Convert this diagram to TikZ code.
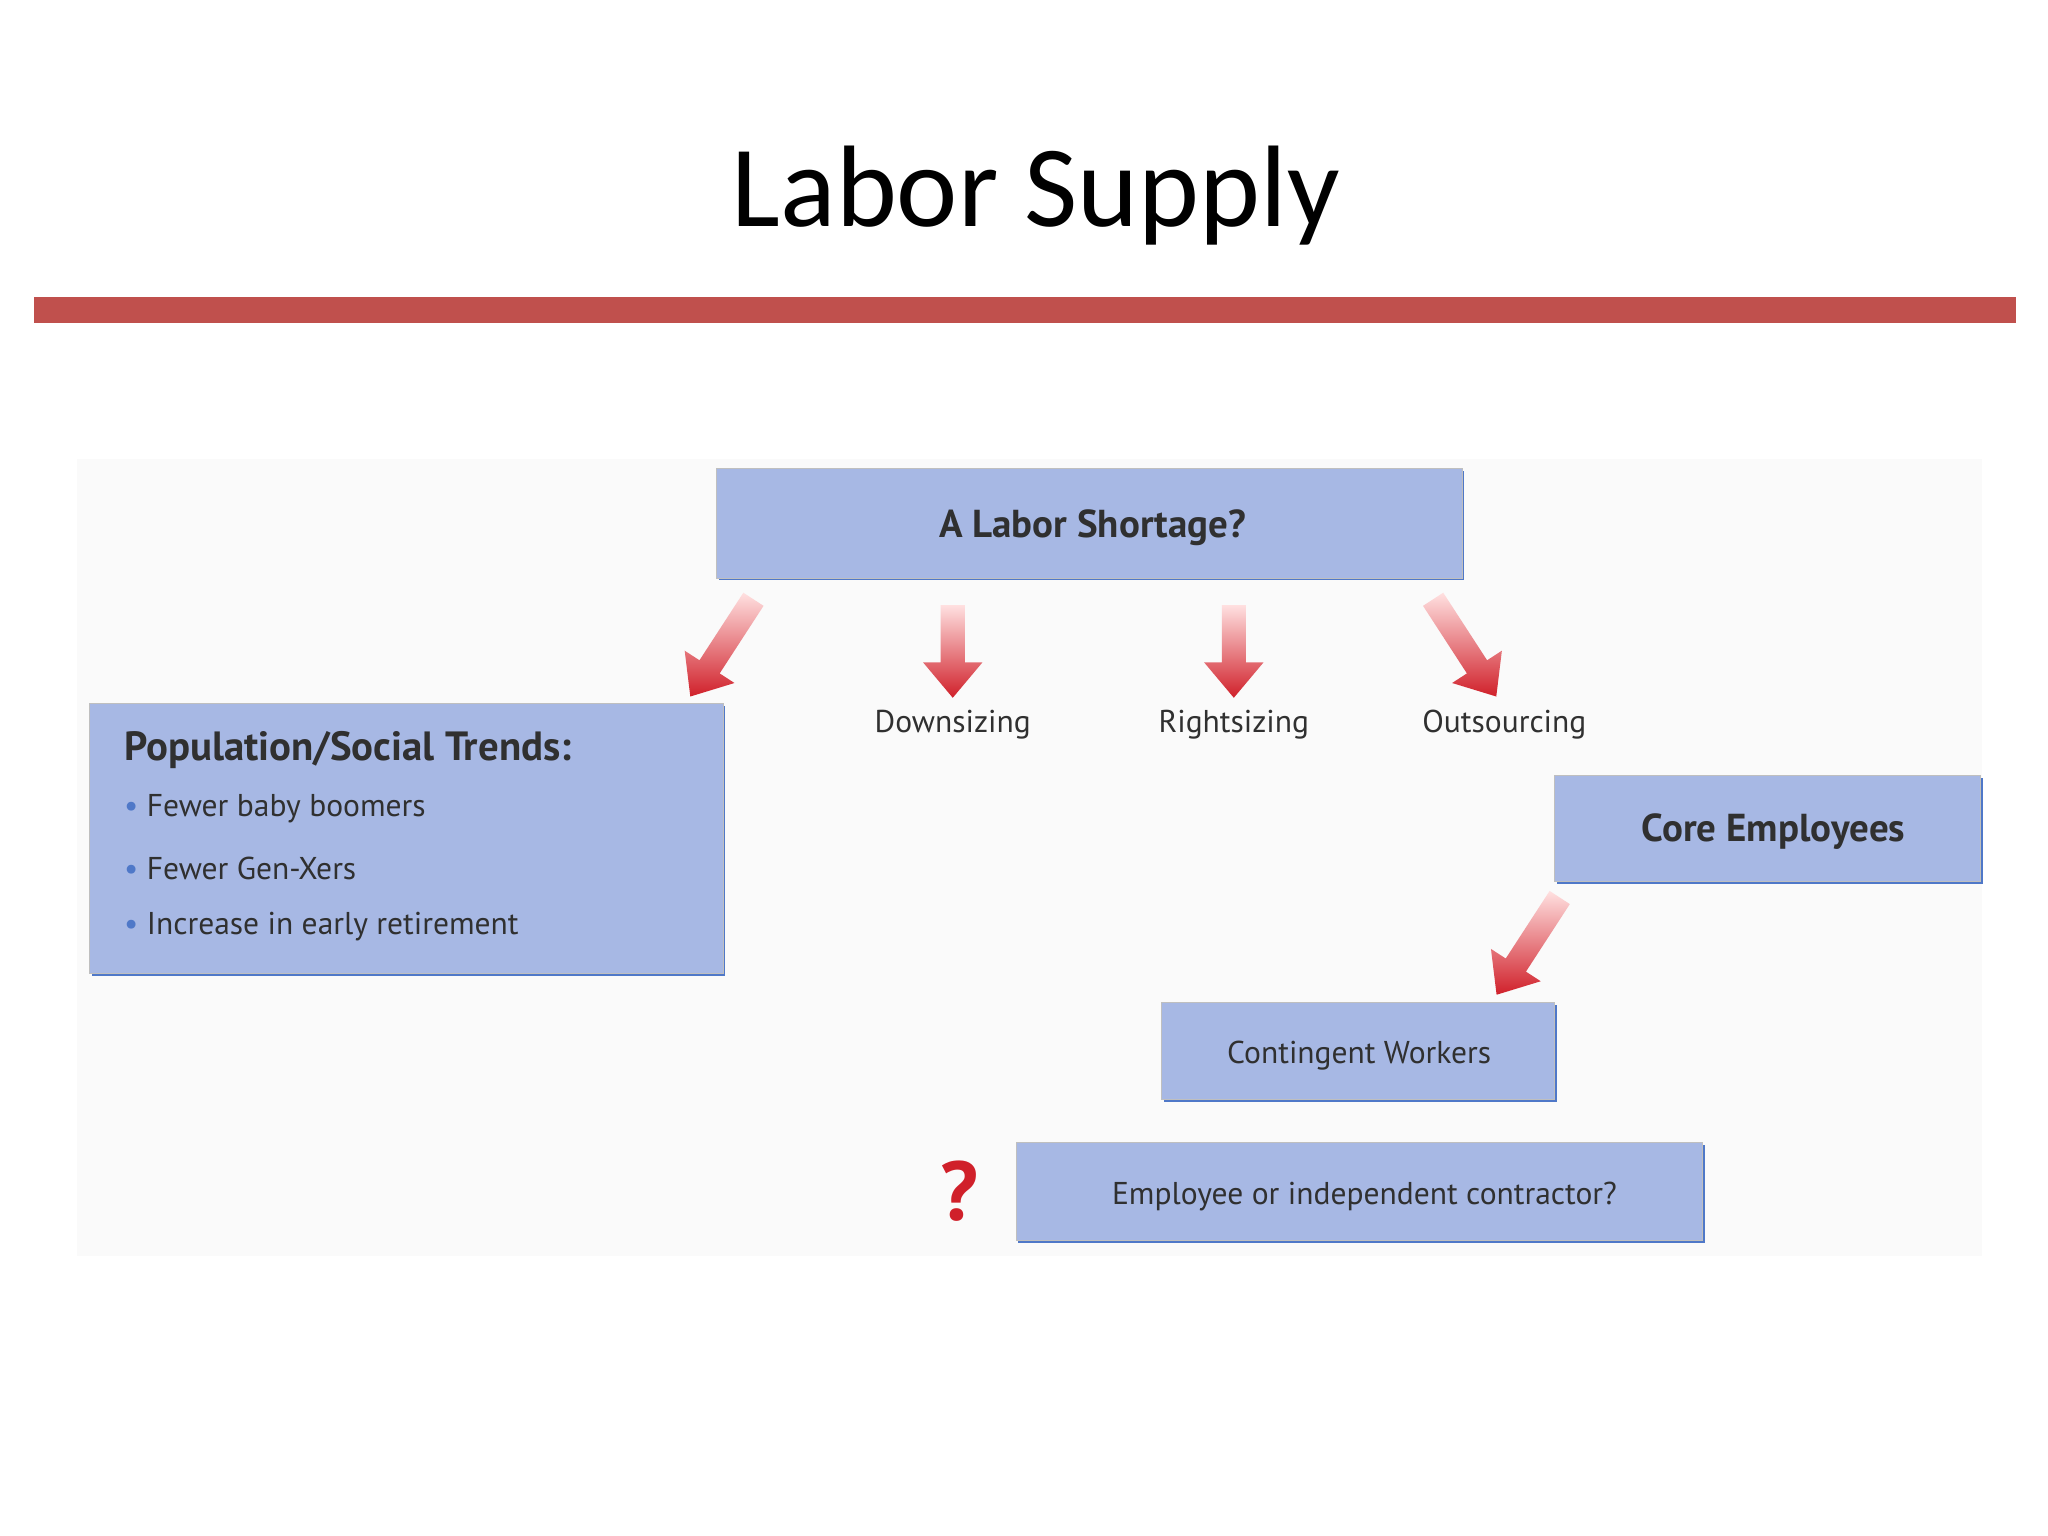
\documentclass[tikz,border=0pt]{standalone}
\usepackage{fontspec}
\setmainfont{PT Sans}
\newfontfamily\titlefont{Carlito}
\usetikzlibrary{shapes.arrows,shadows}
\definecolor{barred}{HTML}{C0504D}
\definecolor{boxblue}{HTML}{A7B8E4}
\definecolor{edgeblue}{HTML}{4F78C8}
\definecolor{arrred}{HTML}{D0202A}
\definecolor{txt}{HTML}{303030}
\tikzset{
 bx/.style={draw=gray!50, line width=1pt, fill=boxblue,
   drop shadow={shadow xshift=2.5pt, shadow yshift=-2.5pt, fill=edgeblue, opacity=1}},
 lbl/.style={font=\fontsize{34}{36}\selectfont, text=txt},
 bul/.style={font=\fontsize{34}{36}\selectfont, text=txt, anchor=west, inner sep=0pt},
 arr/.style={single arrow, minimum width=64pt, single arrow head extend=12pt, single arrow tip angle=80,
   inner sep=8pt, top color=red!12!white, bottom color=arrred, draw=none, anchor=tip},
}
\begin{document}
\begin{tikzpicture}[x=0.05cm,y=-0.05cm]
\useasboundingbox (0,0) rectangle (1552,1164);
\fill[white] (0,0) rectangle (1552,1164);
\fill[gray!4] (58,348) rectangle (1502,952);
\node[font=\titlefont\fontsize{125}{125}\selectfont] (title) at (785,148) {Labor Supply};
\fill[barred] (26,225) rectangle (1528,245);
% boxes
\path[bx] (543,355) rectangle (1108,438);
\node[font=\fontsize{42}{44}\selectfont\bfseries, text=txt] (ls) at (828,400) {A Labor Shortage?};
\path[bx] (68,533) rectangle (548,738);
\node[font=\fontsize{44}{46}\selectfont\bfseries, text=txt, anchor=west, inner sep=0pt] (pop) at (94,568) {Population/Social Trends:};
\node[bul] (b1) at (94,613) {\textcolor{edgeblue}{\textbullet}\ Fewer baby boomers};
\node[bul] (b2) at (94,658) {\textcolor{edgeblue}{\textbullet}\ Fewer Gen-Xers};
\node[bul] (b3) at (94,702) {\textcolor{edgeblue}{\textbullet}\ Increase in early retirement};
\path[bx] (1178,588) rectangle (1501,668);
\node[font=\fontsize{42}{44}\selectfont\bfseries, text=txt] (core) at (1344,630) {Core Employees};
\path[bx] (880,760) rectangle (1178,833);
\node[lbl] (cont) at (1030,800) {Contingent Workers};
\path[bx] (770,866) rectangle (1290,940);
\node[lbl] (emp) at (1034,907) {Employee or independent contractor?};
\node[font=\fontsize{90}{90}\selectfont\bfseries, text=arrred] (q) at (727,903) {?};
% labels
\node[lbl] (down) at (722,549) {Downsizing};
\node[lbl] (right) at (935,549) {Rightsizing};
\node[lbl] (out) at (1140,549) {Outsourcing};
% arrows
\coordinate (t1) at (523,528); \coordinate (t2) at (722,529);
\coordinate (t3) at (935,529); \coordinate (t4) at (1134,528);
\coordinate (t5) at (1134,754);
\node[arr, minimum height=125pt, rotate=237] (a1) at (t1) {};
\node[arr, minimum height=100pt, rotate=270] (a2) at (t2) {};
\node[arr, minimum height=100pt, rotate=270] (a3) at (t3) {};
\node[arr, minimum height=125pt, rotate=303] (a4) at (t4) {};
\node[arr, minimum height=125pt, rotate=237] (a5) at (t5) {};
\end{tikzpicture}
\end{document}
